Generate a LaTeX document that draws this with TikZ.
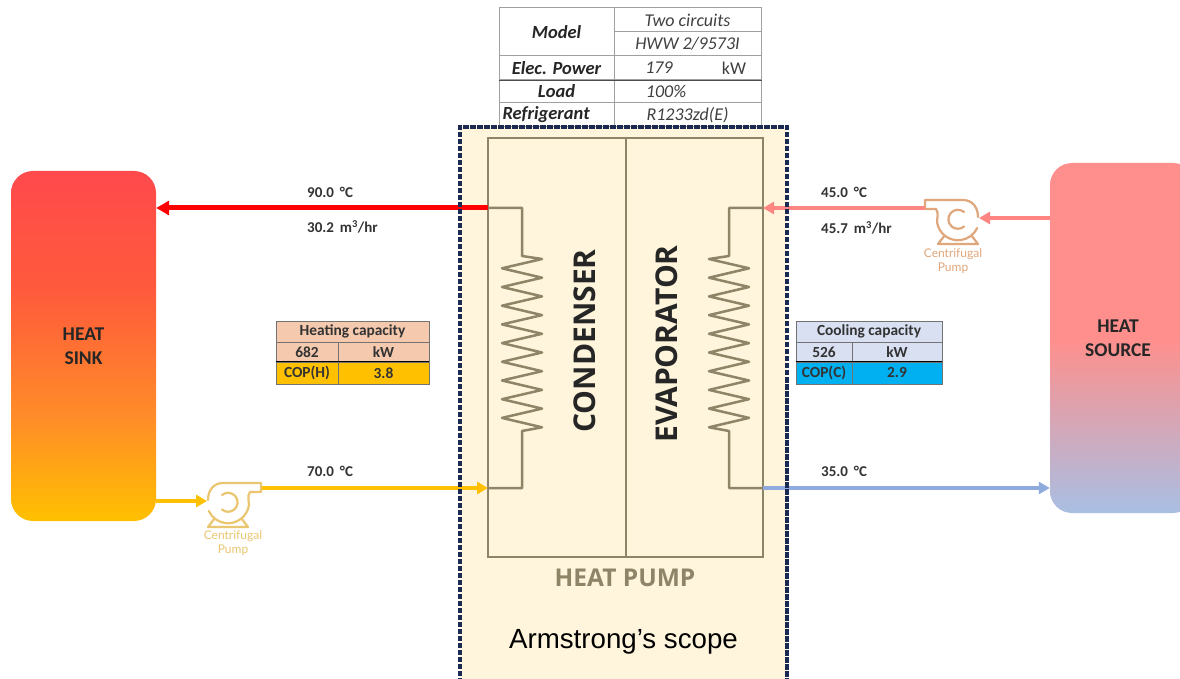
\documentclass[tikz,border=0pt]{standalone}
\usepackage{fontspec}
\setmainfont{Carlito}
\newfontfamily\arialfont{Liberation Sans}
\newfontfamily\opensans{Open Sans}
\newfontfamily\pumpfont{Lato}
\usetikzlibrary{arrows.meta}
\definecolor{scopefill}{HTML}{FFF5DC}
\definecolor{scopeline}{HTML}{1B2A52}
\definecolor{hpgray}{HTML}{8E8468}
\definecolor{hotred}{HTML}{FF0000}
\definecolor{warmsalmon}{HTML}{FF8582}
\definecolor{gold}{HTML}{FFC000}
\definecolor{coolblue}{HTML}{8FAADC}
\definecolor{gridgray}{HTML}{A0A0A0}
\definecolor{heatfill}{HTML}{F4C9AE}
\definecolor{coolfill}{HTML}{D9E0F2}
\definecolor{cyanfill}{HTML}{00B0F0}
\definecolor{sinktop}{HTML}{FF4A4C}
\definecolor{sinkmid}{HTML}{FF5A3C}
\definecolor{sinklow}{HTML}{FF8C28}
\definecolor{sourcetop}{HTML}{FF8F8C}
\definecolor{sourcelow}{HTML}{A9BFE3}
\definecolor{hotpumpcol}{HTML}{EBC670}
\definecolor{coldpumpcol}{HTML}{E0A67C}
\pgfdeclareverticalshading{sinkshade}{100bp}{color(0bp)=(gold); color(25bp)=(gold); color(40bp)=(sinklow); color(58bp)=(sinkmid); color(75bp)=(sinktop); color(100bp)=(sinktop)}
\pgfdeclareverticalshading{sourceshade}{100bp}{color(0bp)=(sourcelow); color(25bp)=(sourcelow); color(50bp)=(sourcetop); color(75bp)=(sourcetop); color(100bp)=(sourcetop)}
\tikzset{
  tank/.style={rounded corners=22pt,minimum width=145,minimum height=350,inner sep=0,font=\bfseries\fontsize{19.5}{24}\selectfont,align=center,text=black!85},
  pipe/.style={-{Triangle[length=11pt,width=12pt]},line width=3.5pt},
  flowlabel/.style={anchor=west,inner sep=0,font=\bfseries\fontsize{15}{17}\selectfont,text=black!80},
  topcell/.style={draw=gridgray,line width=1pt,inner sep=0,font=\itshape\fontsize{18}{20}\selectfont,text=black!75},
  topname/.style={topcell,minimum width=115,font=\bfseries\itshape\fontsize{18.5}{20}\selectfont,text=black!85},
  capcell/.style={draw=black!55,line width=0.8pt,inner sep=0,font=\bfseries\fontsize{15.4}{17}\selectfont,text=black!80},
  pumptext/.style={font=\pumpfont\fontsize{12}{14}\selectfont,align=center},
  coilline/.style={draw=hpgray,line width=2.5pt,line join=round},
  coil/.pic={
    \draw[coilline] (0,0) -- (34,0) -- (34,-48)
      \foreach \k in {0,...,8} { -- (54,{-51-18.7*\k}) -- (14,{-60.3-18.7*\k}) }
      -- (54,-219.3) -- (34,-223) -- (34,-280) -- (0,-280);
  },
  pumpbody/.pic={
    \draw[line width=2.2pt,line join=round,line cap=round] (-20,2) .. controls (-20,12) and (-14,19) .. (-5,19) -- (33,19) -- (33,10) -- (22,10) .. controls (19,6) and (21,0) .. (21,-3) arc[start angle=-8,end angle=-155,radius=21.2];
    \draw[line width=2.2pt,line cap=round] (-6,7) arc[start angle=130,end angle=-130,radius=9.5];
    \draw[line width=2.2pt,line join=round] (-13,-16) -- (-20,-25) -- (20,-25) -- (13,-16);
  }
}
\begin{document}
\begin{tikzpicture}[x=1pt,y=1pt]
\clip (0,0) rectangle (1180,678);
\fill[white] (0,0) rectangle (1180,678);

% scope
\node[fill=scopefill,minimum width=327,minimum height=563,inner sep=0] (scopebox) at (623.5,269.5) {};
\node[font=\arialfont\fontsize{27.7}{30}\selectfont,text=black] (scopetext) at (623.5,36) {Armstrong’s scope};

% tanks
\node[tank,shading=sinkshade,minimum height=350] (sink) at (83.5,332) {HEAT\\SINK};
\node[tank,shading=sourceshade] (source) at (1122.5,340) {};
\node[font=\bfseries\fontsize{19.5}{24}\selectfont,align=center,text=black!85] (sourcetext) at (1118,340) {HEAT\\SOURCE};

% top table
\node[topname,minimum height=48] (model) at (556.5,646) {Model};
\node[topcell,minimum width=147,minimum height=24] (circuits) at (687.5,658) {Two circuits};
\node[topcell,minimum width=147,minimum height=24] (hww) at (687.5,634) {HWW 2/9573I};
\node[topname,minimum height=24] (elec) at (556.5,610) {Elec. Power};
\node[topcell,minimum width=147,minimum height=24] (elecval) at (687.5,610) {};
\node[topname,minimum height=23] (load) at (556.5,586.5) {Load};
\node[topcell,minimum width=147,minimum height=23] (loadval) at (687.5,586.5) {};
\node[topname,minimum height=24,text width=108,align=left] (refr) at (556.5,563) {Refrigerant};
\node[topcell,minimum width=147,minimum height=24] (refrval) at (687.5,563) {R1233zd(E)};
\node[font=\itshape\fontsize{18}{20}\selectfont,text=black!75] (power) at (659,610) {179};
\node[font=\fontsize{18}{20}\selectfont,text=black!75] (powerunit) at (734,610) {kW};
\node[font=\itshape\fontsize{18}{20}\selectfont,text=black!75] (loadpct) at (666,586.5) {100\%};
\draw[line width=1.2pt,black!70] (elec.south west) -- (elecval.south east);

% heat pump box
\node[draw=hpgray,line width=2.5pt,minimum width=275,minimum height=419,inner sep=0] (hpbox) at (625.5,330.5) {};
\draw[hpgray,line width=2pt] (hpbox.north) -- (hpbox.south);
\node[font=\opensans\bfseries\fontsize{24.5}{28}\selectfont,text=hpgray] (hptext) at (625,100) {HEAT PUMP};
\node[rotate=90,font=\opensans\bfseries\fontsize{30}{34}\selectfont,text=black!85] (condenser) at (585,337) {CONDENSER};
\node[rotate=90,font=\opensans\bfseries\fontsize{30}{34}\selectfont,text=black!85] (evaporator) at (667,334) {EVAPORATOR};

% coils
\coordinate (hotout) at (488,470);
\coordinate (hotin) at (488,190);
\coordinate (warmin) at (763,470);
\coordinate (coolout) at (763,190);
\pic at (hotout) {coil};
\pic[xscale=-1] at (warmin) {coil};

% pumps
\pic[color=hotpumpcol] at (228,176) {pumpbody};
\pic[xscale=-1,color=coldpumpcol] at (958,459) {pumpbody};
\node[pumptext,text=hotpumpcol] (hotpump) at (233,135) {Centrifugal\\Pump};
\node[pumptext,text=coldpumpcol] (coldpump) at (953,417) {Centrifugal\\Pump};
\coordinate (hotpumpin) at (207,177);
\coordinate (hotpumpout) at (262,190);
\coordinate (coldpumpin) at (979,460);
\coordinate (coldpumpout) at (925,470);

% connectors
\draw[pipe,hotred,line width=5pt,-{Triangle[length=13pt,width=14pt]}] (hotout) -- (hotout -| sink.east);
\draw[pipe,warmsalmon] (source.west |- coldpumpin) -- (coldpumpin);
\draw[pipe,warmsalmon] (coldpumpout) -- (warmin);
\draw[pipe,gold] (sink.east |- hotpumpin) -- (hotpumpin);
\draw[pipe,gold] (hotpumpout) -- (hotin);
\draw[pipe,coolblue] (coolout) -- (coolout -| source.west);

% scope border on top of the pipes
\draw[scopeline,line width=3.5pt,dash pattern=on 5.5pt off 1.5pt] (scopebox.south west) -- (scopebox.north west) -- (scopebox.north east) -- (scopebox.south east);

% flow labels
\node[flowlabel] (t90) at (307,486) {90.0 \,°C};
\node[flowlabel] (f30) at (307,451) {30.2 \,m\textsuperscript{3}/hr};
\node[flowlabel] (t45) at (821,486) {45.0 \,°C};
\node[flowlabel] (f45) at (821,450) {45.7 \,m\textsuperscript{3}/hr};
\node[flowlabel] (t70) at (307,207) {70.0 \,°C};
\node[flowlabel] (t35) at (821,207) {35.0 \,°C};

% heating capacity
\node[capcell,fill=heatfill,minimum width=153,minimum height=21] (heattitle) at (352.5,346.5) {Heating capacity};
\node[capcell,fill=heatfill,minimum width=62,minimum height=20] (heatval) at (307,326) {682};
\node[capcell,fill=heatfill,minimum width=91,minimum height=20] (heatunit) at (383.5,326) {kW};
\node[capcell,fill=gold,minimum width=62,minimum height=22] (coph) at (307,305) {COP(H)};
\node[capcell,fill=gold,minimum width=91,minimum height=22] (cophval) at (383.5,305) {3.8};
\draw[line width=1.4pt,black] (coph.north west) -- (cophval.north east);

% cooling capacity
\node[capcell,fill=coolfill,minimum width=146,minimum height=21] (cooltitle) at (869,346.5) {Cooling capacity};
\node[capcell,fill=coolfill,minimum width=56,minimum height=20] (coolval) at (824,326) {526};
\node[capcell,fill=coolfill,minimum width=90,minimum height=20] (coolunit) at (897,326) {kW};
\node[capcell,fill=cyanfill,minimum width=56,minimum height=22] (copc) at (824,305) {COP(C)};
\node[capcell,fill=cyanfill,minimum width=90,minimum height=22] (copcval) at (897,305) {2.9};
\draw[line width=1.4pt,black] (copc.north west) -- (copcval.north east);
\end{tikzpicture}
\end{document}
